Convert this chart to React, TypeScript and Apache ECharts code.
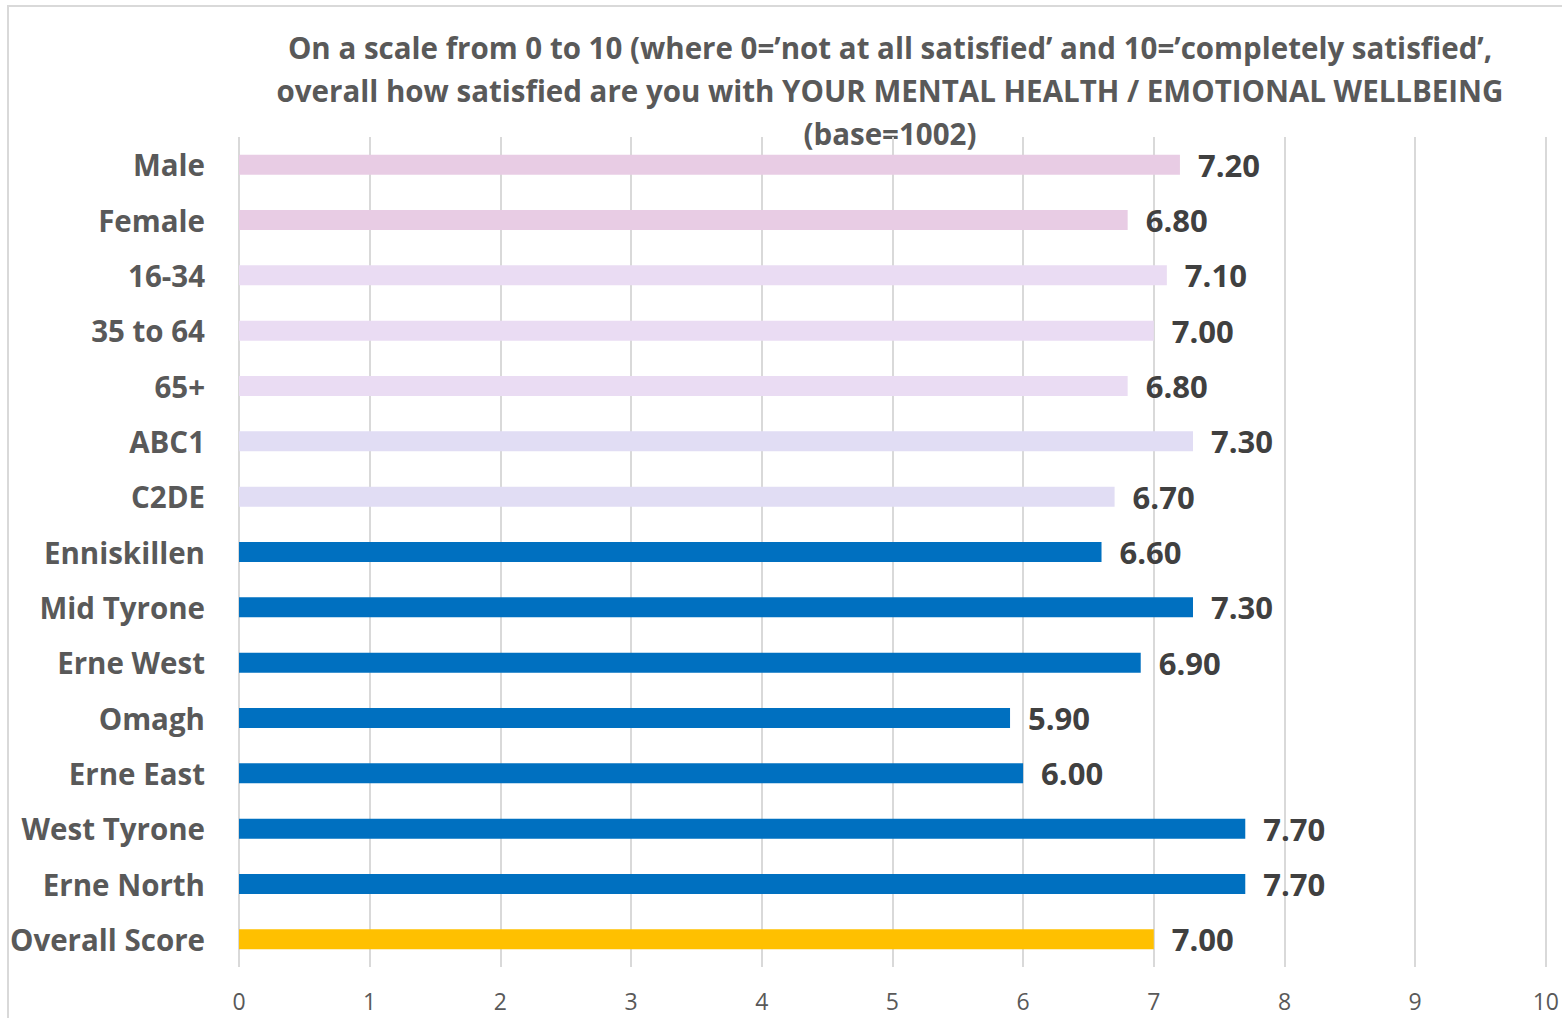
import React, { useEffect, useRef } from "react";
import * as echarts from "echarts";

const categories = [
  "Male", "Female", "16-34", "35 to 64", "65+", "ABC1", "C2DE",
  "Enniskillen", "Mid Tyrone", "Erne West", "Omagh", "Erne East",
  "West Tyrone", "Erne North", "Overall Score",
];
const scores = [7.2, 6.8, 7.1, 7.0, 6.8, 7.3, 6.7, 6.6, 7.3, 6.9, 5.9, 6.0, 7.7, 7.7, 7.0];
const barColors = [
  "#E8CCE4", "#E8CCE4", "#EADCF3", "#EADCF3", "#EADCF3", "#E1DDF4", "#E1DDF4",
  "#0070C0", "#0070C0", "#0070C0", "#0070C0", "#0070C0", "#0070C0", "#0070C0", "#FFC000",
];
const xTicks = [0, 1, 2, 3, 4, 5, 6, 7, 8, 9, 10];
const titleLines = [
  "On a scale from 0 to 10 (where 0=\u2019not at all satisfied\u2019 and 10=\u2019completely satisfied\u2019,",
  "overall how satisfied are you with YOUR MENTAL HEALTH / EMOTIONAL WELLBEING",
  "(base=1002)",
];

const FONT = "'Open Sans', sans-serif";

export default function App() {
  const ref = useRef<HTMLDivElement>(null);
  useEffect(() => {
    document.body.style.margin = "0";
    const chart = echarts.init(ref.current!, null, { renderer: "svg" });
    chart.setOption({
      animation: false,
      backgroundColor: "#FFFFFF",
      graphic: [
        {
          type: "rect",
          shape: { x: 8, y: 6, width: 1600, height: 1100 },
          style: { fill: "none", stroke: "#D9D9D9", lineWidth: 2 },
          silent: true,
        },
        {
          type: "text",
          x: 890,
          y: 26,
          style: {
            text: titleLines.join("\n"),
            textAlign: "center",
            textVerticalAlign: "top",
            font: `bold 29.5px ${FONT}`,
            lineHeight: 43,
            fill: "#595959",
          },
        },
      ],
      grid: { left: 239, right: 15, top: 137, bottom: 51, containLabel: false },
      xAxis: {
        type: "value",
        min: 0,
        max: 10,
        interval: 1,
        axisLine: { show: false },
        axisTick: { show: false },
        splitLine: { show: true, lineStyle: { color: "#D9D9D9", width: 2 } },
        axisLabel: {
          color: "#595959",
          fontFamily: FONT,
          fontSize: 23,
          margin: 22,
          formatter: (v: number) => (xTicks.includes(v) ? String(v) : ""),
        },
      },
      yAxis: {
        type: "category",
        inverse: true,
        data: categories,
        axisLine: { show: false },
        axisTick: { show: false },
        axisLabel: {
          color: "#595959",
          fontFamily: FONT,
          fontWeight: "bold",
          fontSize: 29.5,
          margin: 34,
        },
      },
      series: [
        {
          type: "bar",
          barWidth: 20,
          data: scores.map((v, i) => ({ value: v, itemStyle: { color: barColors[i] } })),
          label: {
            show: true,
            position: "right",
            distance: 18,
            color: "#404040",
            fontFamily: FONT,
            fontWeight: "bold",
            fontSize: 31,
            formatter: (p: any) => Number(p.value).toFixed(2),
          },
        },
      ],
    });
    return () => chart.dispose();
  }, []);
  return <div ref={ref} style={{ width: 1562, height: 1018 }} />;
}
